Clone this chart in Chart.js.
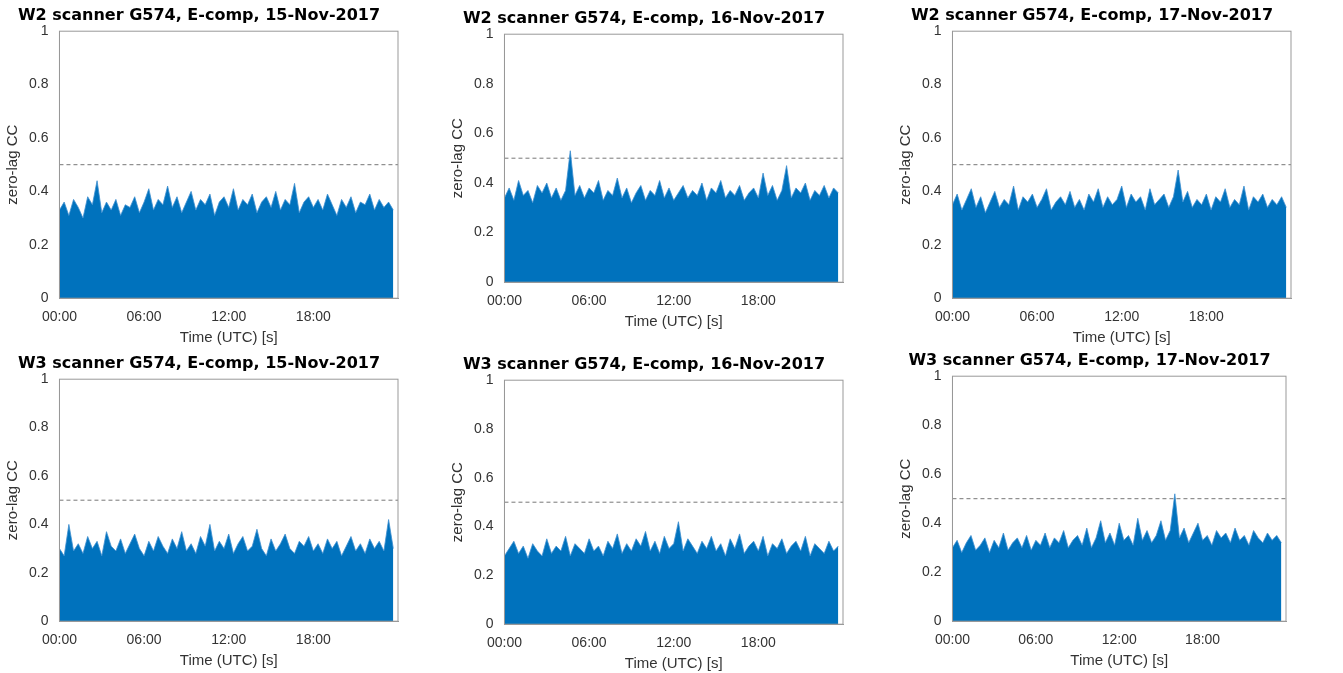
<!DOCTYPE html>
<html><head><meta charset="utf-8">
<script src="https://cdn.jsdelivr.net/npm/chart.js@4"></script>
<style>
body{margin:0;background:#fff;width:1343px;height:673px;position:relative;overflow:hidden;font-family:"DejaVu Sans",sans-serif}
.p{position:absolute}
</style></head><body>
<script>
const titles=["W2 scanner G574, E-comp, 15-Nov-2017","W2 scanner G574, E-comp, 16-Nov-2017","W2 scanner G574, E-comp, 17-Nov-2017",
"W3 scanner G574, E-comp, 15-Nov-2017","W3 scanner G574, E-comp, 16-Nov-2017","W3 scanner G574, E-comp, 17-Nov-2017"];
const xTicks=[0,6,12,18];
const tickLabels=["00:00","06:00","12:00","18:00"];
const threshold=0.5;
const w2d15=[0.33,0.36,0.31,0.37,0.34,0.30,0.38,0.35,0.44,0.32,0.36,0.33,0.37,0.31,0.35,0.34,0.38,0.32,0.36,0.41,0.33,0.37,0.35,0.42,0.34,0.38,0.32,0.36,0.40,0.33,0.37,0.35,0.39,0.31,0.36,0.38,0.34,0.41,0.33,0.37,0.35,0.39,0.32,0.36,0.38,0.34,0.40,0.33,0.37,0.35,0.43,0.32,0.36,0.38,0.34,0.37,0.33,0.39,0.35,0.31,0.37,0.34,0.38,0.32,0.36,0.35,0.39,0.33,0.37,0.34,0.36,0.33];
const w2d16=[0.34,0.38,0.33,0.41,0.35,0.37,0.32,0.39,0.36,0.40,0.34,0.38,0.33,0.37,0.53,0.35,0.39,0.34,0.38,0.36,0.41,0.33,0.37,0.35,0.42,0.34,0.38,0.32,0.36,0.39,0.33,0.37,0.35,0.41,0.34,0.38,0.33,0.36,0.39,0.34,0.37,0.35,0.40,0.33,0.38,0.36,0.41,0.34,0.37,0.35,0.39,0.33,0.36,0.38,0.34,0.44,0.35,0.39,0.33,0.37,0.47,0.34,0.38,0.36,0.40,0.33,0.37,0.35,0.39,0.34,0.38,0.36];
const w2d17=[0.35,0.39,0.33,0.37,0.41,0.34,0.38,0.32,0.36,0.40,0.34,0.37,0.35,0.42,0.33,0.38,0.36,0.39,0.34,0.37,0.41,0.33,0.36,0.38,0.35,0.40,0.34,0.37,0.33,0.39,0.36,0.41,0.34,0.38,0.35,0.37,0.42,0.34,0.39,0.36,0.38,0.33,0.41,0.35,0.37,0.39,0.34,0.38,0.48,0.36,0.40,0.34,0.37,0.35,0.39,0.33,0.38,0.36,0.41,0.34,0.37,0.35,0.42,0.33,0.38,0.36,0.39,0.34,0.37,0.35,0.38,0.34];
const w3d15=[0.30,0.27,0.40,0.29,0.32,0.28,0.35,0.30,0.33,0.27,0.37,0.31,0.29,0.34,0.28,0.32,0.36,0.30,0.27,0.33,0.29,0.35,0.31,0.28,0.34,0.30,0.37,0.29,0.32,0.28,0.35,0.31,0.40,0.29,0.33,0.30,0.36,0.28,0.32,0.35,0.29,0.31,0.38,0.30,0.27,0.34,0.29,0.32,0.36,0.30,0.28,0.33,0.31,0.35,0.29,0.32,0.28,0.34,0.30,0.33,0.27,0.31,0.35,0.29,0.32,0.28,0.34,0.30,0.33,0.29,0.42,0.30];
const w3d16=[0.28,0.31,0.34,0.29,0.32,0.27,0.33,0.30,0.28,0.35,0.29,0.32,0.30,0.36,0.28,0.33,0.31,0.29,0.35,0.30,0.32,0.28,0.34,0.31,0.37,0.29,0.33,0.30,0.35,0.32,0.38,0.30,0.34,0.29,0.36,0.31,0.33,0.42,0.30,0.35,0.32,0.29,0.34,0.31,0.36,0.30,0.33,0.28,0.35,0.31,0.37,0.29,0.32,0.34,0.30,0.36,0.28,0.33,0.31,0.35,0.29,0.32,0.34,0.30,0.36,0.28,0.33,0.31,0.29,0.34,0.30,0.32];
const w3d17=[0.30,0.33,0.28,0.32,0.35,0.29,0.31,0.34,0.28,0.33,0.30,0.36,0.29,0.32,0.34,0.30,0.35,0.29,0.33,0.31,0.36,0.30,0.34,0.32,0.37,0.30,0.33,0.35,0.31,0.38,0.30,0.34,0.41,0.32,0.36,0.31,0.40,0.33,0.35,0.31,0.42,0.33,0.37,0.32,0.35,0.41,0.33,0.37,0.52,0.34,0.38,0.32,0.36,0.40,0.33,0.35,0.31,0.37,0.34,0.36,0.32,0.38,0.33,0.35,0.31,0.37,0.34,0.32,0.36,0.33,0.35,0.32];
const series=[w2d15,w2d16,w2d17,w3d15,w3d16,w3d17];
const boxes=[[0,0,410,347],[445,3,410,328],[893,0,410,347],[0,348,410,322],[445,349,410,324],[893,345,405,325]];
const frame={id:'frame',afterDraw(c){const a=c.chartArea,x=c.ctx;x.save();x.strokeStyle='#999';x.lineWidth=1;x.strokeRect(a.left,a.top,a.right-a.left,a.bottom-a.top);x.restore();}};
series.forEach((vals,k)=>{
  const b=boxes[k];const d=document.createElement('div');d.className='p';
  d.style.cssText=`left:${b[0]}px;top:${b[1]}px;width:${b[2]}px;height:${b[3]}px`;
  const cv=document.createElement('canvas');d.appendChild(cv);document.body.appendChild(d);
  const step=24/vals.length;
  new Chart(cv,{type:'line',plugins:[frame],data:{datasets:[
    {data:vals.map((v,i)=>({x:i*step,y:v})),borderColor:'#3d8fd1',borderWidth:0.8,backgroundColor:'#0072BD',fill:'origin',pointRadius:0,tension:0},
    {data:[{x:0,y:threshold},{x:24,y:threshold}],borderColor:'#777',borderWidth:1,borderDash:[4,3],pointRadius:0}
  ]},options:{responsive:true,maintainAspectRatio:false,animation:false,
    layout:{padding:{right:12}},
    plugins:{legend:{display:false},tooltip:{enabled:false},title:{display:true,text:titles[k],color:'#000',font:{size:16,weight:'bold',family:'DejaVu Sans'},padding:{top:6,bottom:6}}},
    scales:{x:{type:'linear',min:0,max:24,afterBuildTicks(s){s.ticks=xTicks.map(v=>({value:v}));},
      ticks:{callback:(v)=>tickLabels[xTicks.indexOf(v)],color:'#333',font:{size:14},maxRotation:0},
      grid:{display:false},border:{color:'#999'},title:{display:true,text:'Time (UTC) [s]',color:'#333',font:{size:15},padding:0}},
     y:{min:0,max:1,ticks:{stepSize:0.2,color:'#333',font:{size:14},callback:v=>v===0?'0':v===1?'1':v.toFixed(1)},
      grid:{display:false},border:{color:'#999'},title:{display:true,text:'zero-lag CC',color:'#333',font:{size:15}}}}}});
});
</script>
</body></html>
